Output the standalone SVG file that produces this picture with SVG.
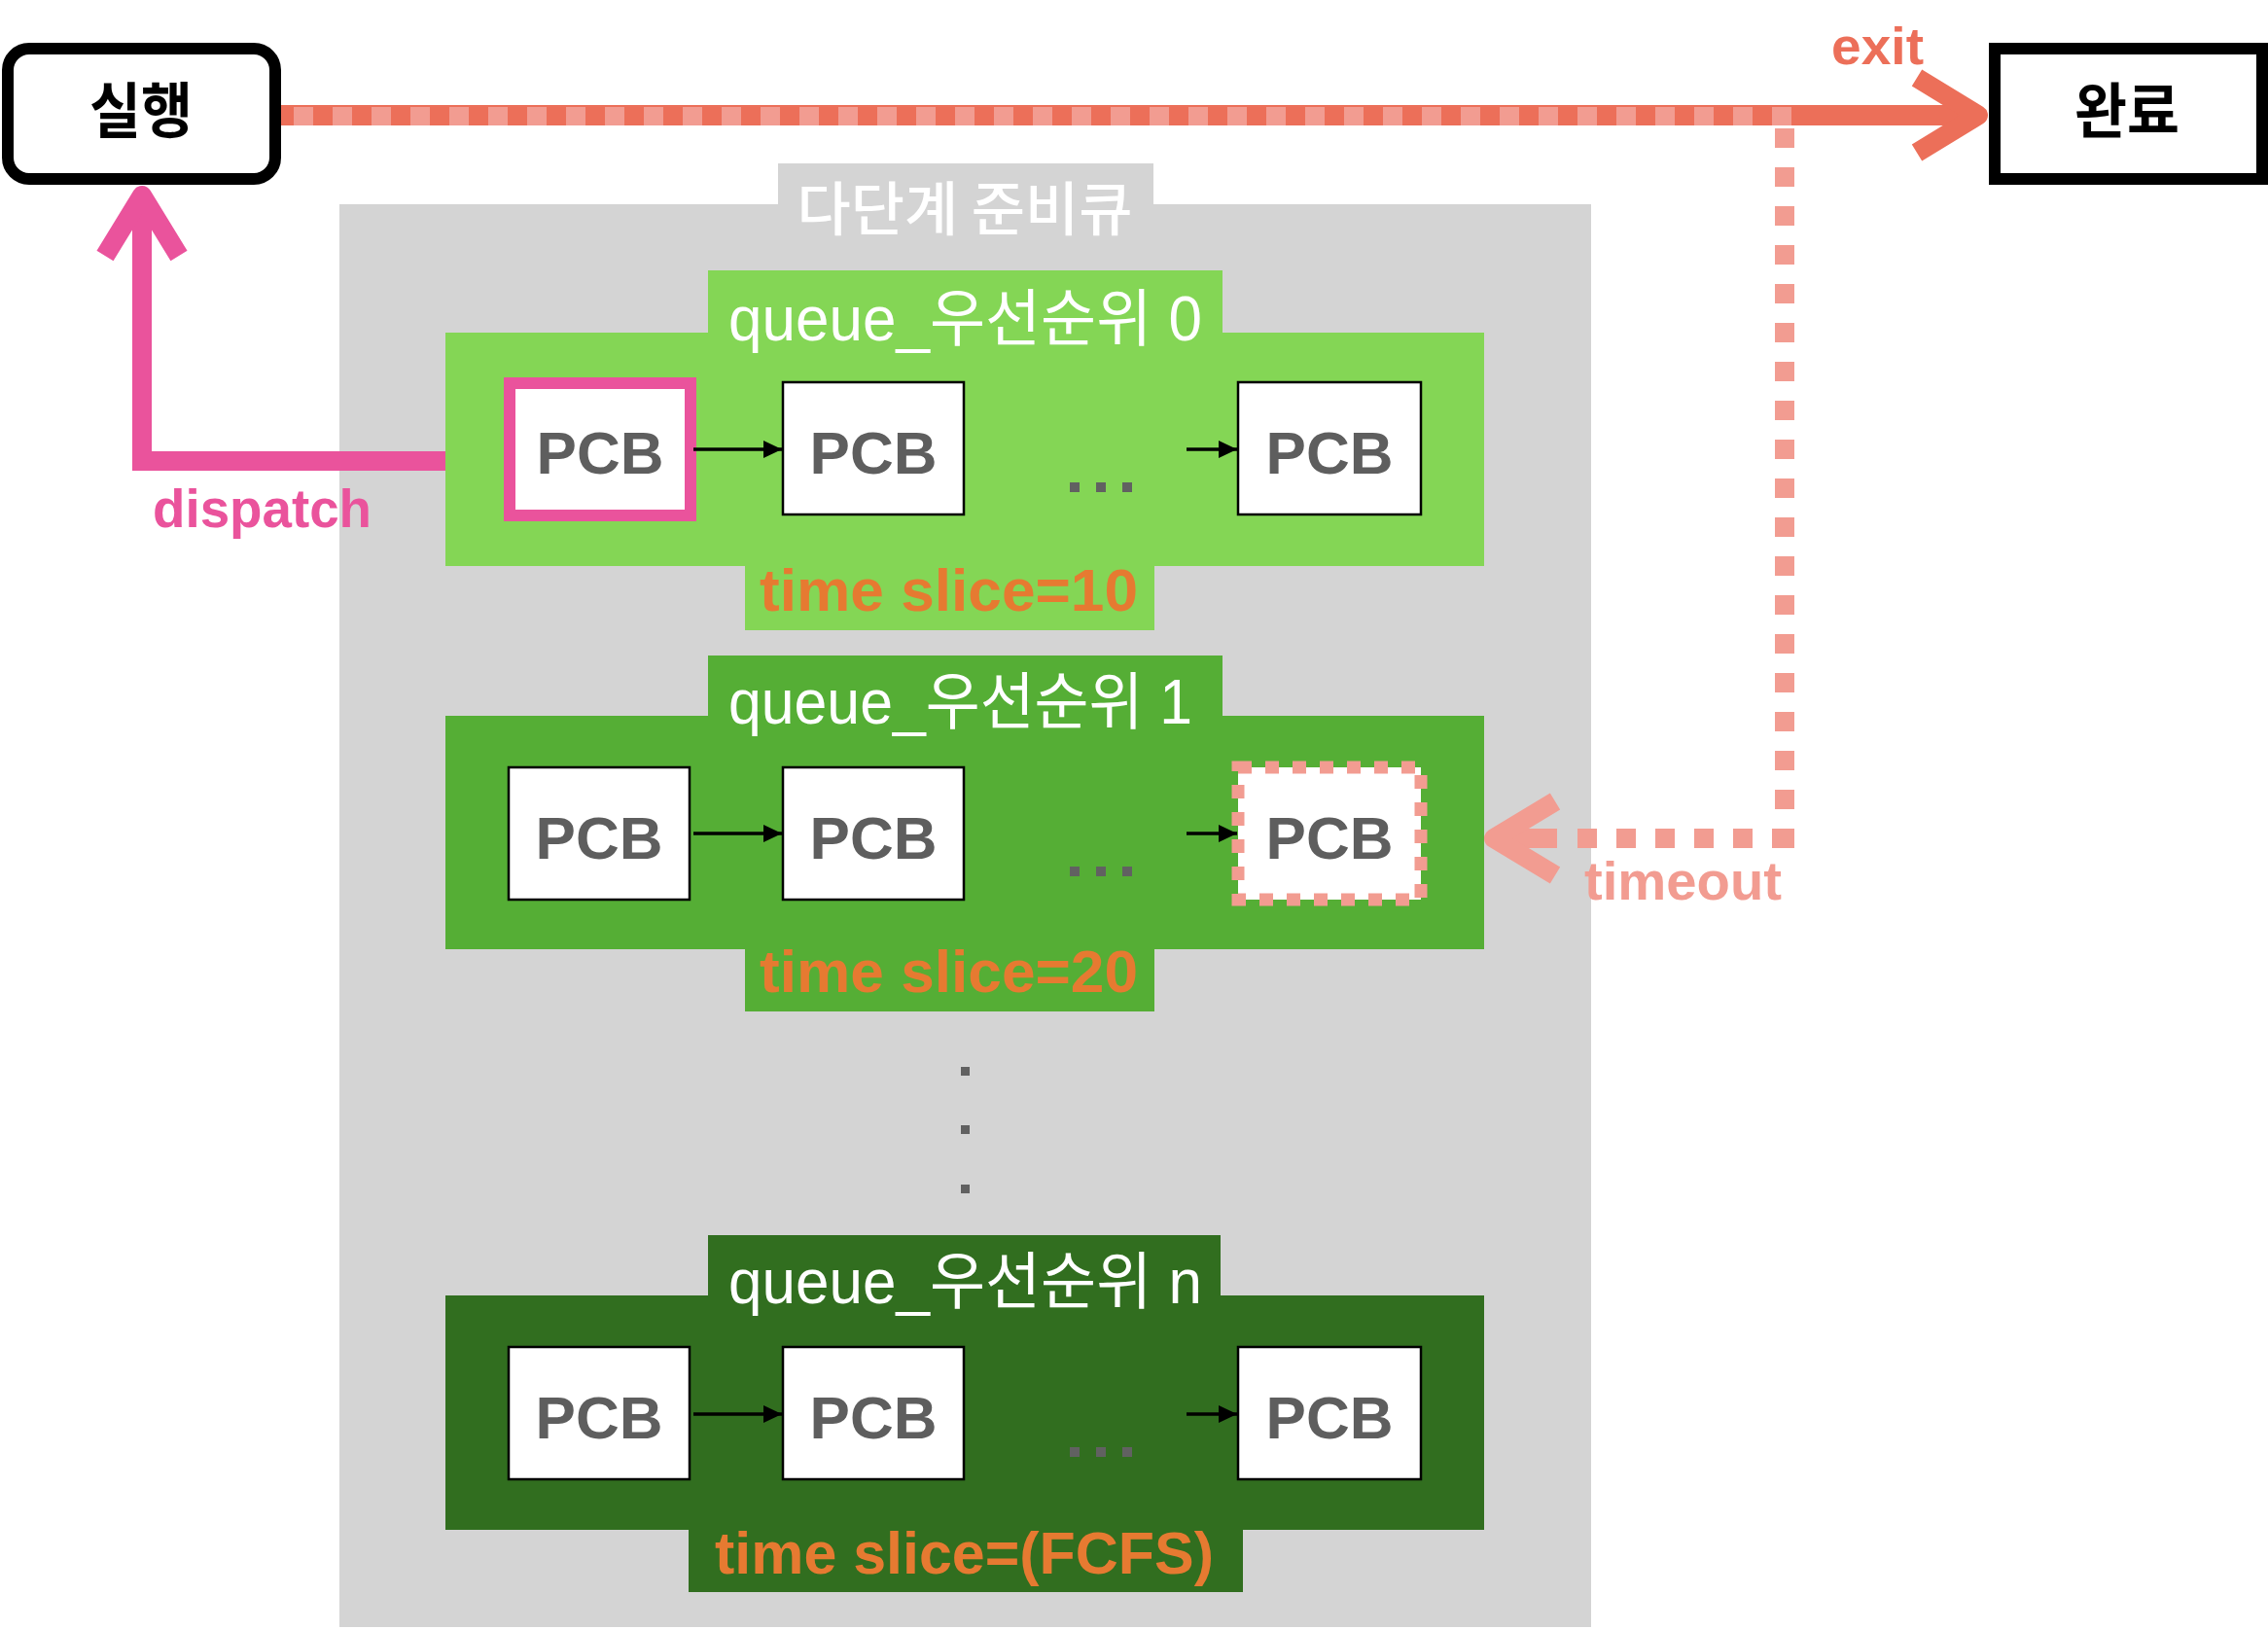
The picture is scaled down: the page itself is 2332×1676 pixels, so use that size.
<svg xmlns="http://www.w3.org/2000/svg" width="2332" height="1676" viewBox="0 0 2332 1676">
<defs>
<style>
.bg{fill:#D4D4D4}
.q0{fill:#84D655}
.q1{fill:#55AE35}
.qn{fill:#316E1F}
.pcb{fill:#FFFFFF;stroke:#000000;stroke-width:2.5}
.pcbt{font-family:"Liberation Sans",Arial,sans-serif;font-weight:bold;font-size:62px;fill:#5E5E5E;text-anchor:middle}
.qlabel{font-family:"Liberation Sans","Noto Sans CJK KR",sans-serif;font-size:64px;fill:#FFFFFF}
.ts{font-family:"Liberation Sans",Arial,sans-serif;font-weight:bold;font-size:62px;fill:#E67A31}
.dot{fill:#616161}
.link{stroke:#000000;stroke-width:3.5;fill:none;marker-end:url(#ah)}
.state{fill:#FFFFFF;stroke:#000000;stroke-width:12}
.statet{font-family:"Noto Sans CJK KR",sans-serif;font-weight:bold;font-size:62px;fill:#000000;text-anchor:middle}
.lbl{font-family:"Liberation Sans",Arial,sans-serif;font-weight:bold}
</style>
<marker id="ah" markerUnits="userSpaceOnUse" markerWidth="20" markerHeight="20" refX="19" refY="9" orient="auto">
<path d="M0,0 L19,9 L0,18 Z" fill="#000000"/>
</marker>
</defs>
<rect width="2332" height="1676" fill="#FFFFFF"/>

<g id="ready-queue">
<rect class="bg" x="349" y="210" width="1287" height="1463"/>
<rect class="bg" x="800" y="168" width="386" height="43"/>
<text x="992" y="237" text-anchor="middle" textLength="345" lengthAdjust="spacingAndGlyphs" style="font-family:'Noto Sans CJK KR',sans-serif;font-weight:500;font-size:60px;fill:#FFFFFF">다단계 준비큐</text>
</g>

<g id="queue0">
<rect class="q0" x="458" y="342" width="1068" height="240"/>
<rect class="q0" x="728" y="278" width="529" height="65"/>
<rect class="q0" x="766" y="581" width="421" height="67"/>
<text class="qlabel" x="749" y="350" textLength="487" lengthAdjust="spacingAndGlyphs">queue_우선순위 0</text>
<text class="ts" x="781" y="628" textLength="389" lengthAdjust="spacingAndGlyphs">time slice=10</text>
</g>
<g id="q0-pcb1">
<rect x="524" y="394" width="186" height="136" fill="#FFFFFF" stroke="#EA539C" stroke-width="12"/>
<text class="pcbt" x="617" y="487">PCB</text>
</g>
<g id="q0-pcb2">
<rect class="pcb" x="805" y="393" width="186" height="136"/>
<text class="pcbt" x="898" y="487">PCB</text>
</g>
<g id="q0-dots">
<rect class="dot" x="1100" y="496" width="10" height="10"/>
<rect class="dot" x="1127" y="496" width="10" height="10"/>
<rect class="dot" x="1154" y="496" width="10" height="10"/>
</g>
<g id="q0-pcb3">
<rect class="pcb" x="1273" y="393" width="188" height="136"/>
<text class="pcbt" x="1367" y="487">PCB</text>
</g>

<g id="queue1">
<rect class="q1" x="458" y="736" width="1068" height="240"/>
<rect class="q1" x="728" y="674" width="529" height="63"/>
<rect class="q1" x="766" y="975" width="421" height="65"/>
<text class="qlabel" x="749" y="744" textLength="477" lengthAdjust="spacingAndGlyphs">queue_우선순위 1</text>
<text class="ts" x="781" y="1020" textLength="389" lengthAdjust="spacingAndGlyphs">time slice=20</text>
</g>
<g id="q1-pcb1">
<rect class="pcb" x="523" y="789" width="186" height="136"/>
<text class="pcbt" x="616" y="883">PCB</text>
</g>
<g id="q1-pcb2">
<rect class="pcb" x="805" y="789" width="186" height="136"/>
<text class="pcbt" x="898" y="883">PCB</text>
</g>
<g id="q1-dots">
<rect class="dot" x="1100" y="891" width="10" height="10"/>
<rect class="dot" x="1127" y="891" width="10" height="10"/>
<rect class="dot" x="1154" y="891" width="10" height="10"/>
</g>
<g id="q1-pcb3">
<rect x="1273" y="789" width="188" height="136" fill="#FFFFFF" stroke="#F29C91" stroke-width="13" stroke-dasharray="14 14"/>
<text class="pcbt" x="1367" y="883">PCB</text>
</g>

<g id="vdots">
<rect class="dot" x="988" y="1097" width="9" height="9"/>
<rect class="dot" x="988" y="1157" width="9" height="9"/>
<rect class="dot" x="988" y="1218" width="9" height="9"/>
</g>

<g id="queuen">
<rect class="qn" x="458" y="1332" width="1068" height="241"/>
<rect class="qn" x="728" y="1270" width="527" height="63"/>
<rect class="qn" x="708" y="1572" width="570" height="65"/>
<text class="qlabel" x="749" y="1340" textLength="487" lengthAdjust="spacingAndGlyphs">queue_우선순위 n</text>
<text class="ts" x="735" y="1618" textLength="513" lengthAdjust="spacingAndGlyphs">time slice=(FCFS)</text>
</g>
<g id="qn-pcb1">
<rect class="pcb" x="523" y="1385" width="186" height="136"/>
<text class="pcbt" x="616" y="1479">PCB</text>
</g>
<g id="qn-pcb2">
<rect class="pcb" x="805" y="1385" width="186" height="136"/>
<text class="pcbt" x="898" y="1479">PCB</text>
</g>
<g id="qn-dots">
<rect class="dot" x="1100" y="1488" width="10" height="10"/>
<rect class="dot" x="1127" y="1488" width="10" height="10"/>
<rect class="dot" x="1154" y="1488" width="10" height="10"/>
</g>
<g id="qn-pcb3">
<rect class="pcb" x="1273" y="1385" width="188" height="136"/>
<text class="pcbt" x="1367" y="1479">PCB</text>
</g>

<g id="run">
<rect class="state" x="8" y="50" width="275" height="134" rx="22"/>
<text class="statet" x="145" y="137" textLength="106" lengthAdjust="spacingAndGlyphs">실행</text>
</g>
<g id="done">
<rect class="state" x="2051" y="50" width="275" height="134"/>
<text class="statet" x="2187" y="137" textLength="108" lengthAdjust="spacingAndGlyphs">완료</text>
</g>

<g id="connectors">
<path class="link" d="M713,462 H804"/>
<path class="link" d="M1220,462 H1272"/>
<path class="link" d="M713,857 H804"/>
<path class="link" d="M1220,857 H1272"/>
<path class="link" d="M713,1454 H804"/>
<path class="link" d="M1220,1454 H1272"/>

<path d="M289,118.5 H2034" stroke="#EC6F59" stroke-width="21" fill="none"/>
<path d="M302,119.5 H1843" stroke="#F29C91" stroke-width="19" stroke-dasharray="20 20" fill="none"/>
<path d="M1971,80 L2034,118.5 L1971,157" stroke="#EC6F59" stroke-width="20" stroke-linejoin="round" fill="none"/>
<text class="lbl" x="1883" y="66" font-size="54" fill="#EC6F59" textLength="95" lengthAdjust="spacingAndGlyphs">exit</text>

<path d="M1835,132 V872" stroke="#F29C91" stroke-width="20" stroke-dasharray="20 20" fill="none"/>
<path d="M1842,862 H1622" stroke="#F29C91" stroke-width="20" stroke-dasharray="20 20" fill="none"/>
<path d="M1601,862 H1536" stroke="#F29C91" stroke-width="20" fill="none"/>
<path d="M1599,824 L1536,862 L1599,900" stroke="#F29C91" stroke-width="20" stroke-linejoin="round" fill="none"/>
<text class="lbl" x="1629" y="925" font-size="55" fill="#F29C91" textLength="203" lengthAdjust="spacingAndGlyphs">timeout</text>

<path d="M458,474 H146 V201" stroke="#EA539C" stroke-width="20" fill="none"/>
<path d="M108,263 L146,201 L184,263" stroke="#EA539C" stroke-width="20" stroke-linejoin="round" fill="none"/>
<text class="lbl" x="157" y="542" font-size="55" fill="#EA539C" textLength="225" lengthAdjust="spacingAndGlyphs">dispatch</text>
</g>
</svg>
